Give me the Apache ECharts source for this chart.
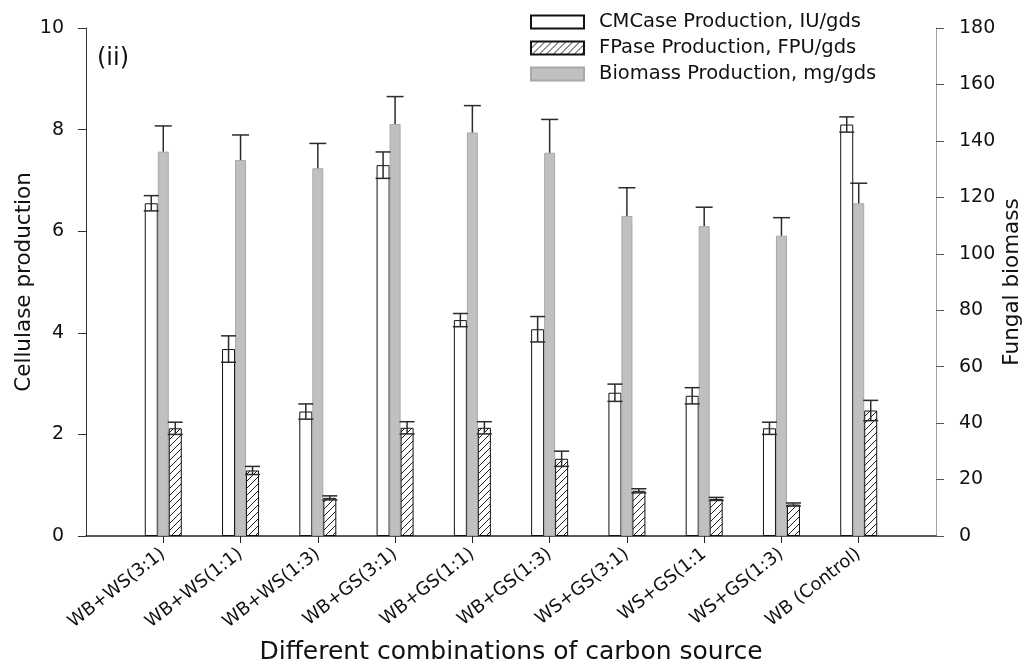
<!DOCTYPE html>
<html>
<head>
<meta charset="utf-8">
<script src="https://cdn.jsdelivr.net/npm/echarts@6/dist/echarts.min.js"></script>
<style>
  html, body { margin: 0; padding: 0; background: #fff; }
  #chart { width: 1028px; height: 666px; }
</style>
</head>
<body>
<div id="chart"></div>
<script>
// Carbon-source combinations on the x axis
const categories = ['WB+WS(3:1)', 'WB+WS(1:1)', 'WB+WS(1:3)', 'WB+GS(3:1)', 'WB+GS(1:1)',
                    'WB+GS(1:3)', 'WS+GS(3:1)', 'WS+GS(1:1', 'WS+GS(1:3)', 'WB (Control)'];

// CMCase production (IU/gds), left axis
const cmcase    = [6.55, 3.68, 2.45, 7.30, 4.25, 4.07, 2.82, 2.76, 2.12, 8.10];
const cmcaseErr = [0.15, 0.26, 0.15, 0.26, 0.13, 0.25, 0.17, 0.16, 0.12, 0.15];

// FPase production (FPU/gds), left axis
const fpase    = [2.12, 1.29, 0.75, 2.13, 2.13, 1.52, 0.89, 0.73, 0.62, 2.47];
const fpaseErr = [0.12, 0.08, 0.04, 0.12, 0.12, 0.15, 0.04, 0.03, 0.03, 0.20];

// Biomass production (mg/gds), right axis
const biomass    = [136.2, 133.2, 130.3, 146.0, 143.0, 135.8, 113.4, 109.8, 106.4, 117.9];
const biomassErr = [9.1, 8.9, 8.8, 9.7, 9.5, 11.8, 10.0, 6.7, 6.4, 7.1];

// Axis scales
const leftAxis  = { min: 0, max: 10, interval: 2 };
const rightAxis = { min: 0, max: 180, interval: 20 };

const legendNames = ['CMCase Production, IU/gds', 'FPase Production, FPU/gds', 'Biomass Production, mg/gds'];

// ---- styling ----
const FONT = 'DejaVu Sans';
const BAR_W = { cm: 13, bio: 11, fp: 13 };
const TOTAL_W = BAR_W.cm + BAR_W.bio + BAR_W.fp;
const OFF = {
  cm: -TOTAL_W / 2 + BAR_W.cm / 2,
  bio: -TOTAL_W / 2 + BAR_W.cm + BAR_W.bio / 2,
  fp: -TOTAL_W / 2 + BAR_W.cm + BAR_W.bio + BAR_W.fp / 2
};

// diagonal hatch fill
function hatchPattern() {
  const s = 7;
  const c = document.createElement('canvas');
  c.width = s; c.height = s;
  const ctx = c.getContext('2d');
  ctx.fillStyle = '#ffffff';
  ctx.fillRect(0, 0, s, s);
  ctx.strokeStyle = '#222';
  ctx.lineWidth = 1;
  ctx.beginPath();
  ctx.moveTo(0, s); ctx.lineTo(s, 0);
  ctx.moveTo(-2, 2); ctx.lineTo(2, -2);
  ctx.moveTo(s - 2, s + 2); ctx.lineTo(s + 2, s - 2);
  ctx.stroke();
  return { image: c, repeat: 'repeat' };
}

// axis slots: an empty slot at each end so the groups sit inside the frame
const axisCats = [''].concat(categories, ['']);
const toPairs = arr => arr.map((v, i) => [i + 1, v]);

function errorSeries(values, errs, yAxisIndex, offset, capW, upperOnly) {
  return {
    type: 'custom',
    yAxisIndex: yAxisIndex,
    z: 5,
    silent: true,
    encode: { x: 0, y: 1 },
    data: values.map((v, i) => [i + 1, v, errs[i]]),
    renderItem: function (params, api) {
      const cx = api.value(0), v = api.value(1), e = api.value(2);
      const x = api.coord([cx, v])[0] + offset;
      const yTop = api.coord([cx, v + e])[1];
      const yBot = api.coord([cx, upperOnly ? v : v - e])[1];
      const style = { stroke: '#2a2a2a', lineWidth: 1.5 };
      const children = [
        { type: 'line', shape: { x1: x, y1: yBot, x2: x, y2: yTop }, style: style },
        { type: 'line', shape: { x1: x - capW / 2, y1: yTop, x2: x + capW / 2, y2: yTop }, style: style }
      ];
      if (!upperOnly) {
        children.push({ type: 'line', shape: { x1: x - capW / 2, y1: yBot, x2: x + capW / 2, y2: yBot }, style: style });
      }
      return { type: 'group', children: children };
    }
  };
}

const chart = echarts.init(document.getElementById('chart'), null, { renderer: 'canvas' });

chart.setOption({
  animation: false,
  backgroundColor: '#ffffff',
  textStyle: { fontFamily: FONT, color: '#111' },
  grid: { left: 86, right: 92, top: 28, bottom: 130, containLabel: false, outerBoundsMode: 'none' },
  legend: {
    data: legendNames,
    orient: 'vertical',
    left: 530,
    top: 12,
    padding: 0,
    itemWidth: 53,
    itemHeight: 13,
    itemGap: 6,
    icon: 'rect',
    textStyle: { fontFamily: FONT, fontSize: 19.5, color: '#111', lineHeight: 20, padding: [0, 0, 0, 10] }
  },
  graphic: [{
    type: 'text',
    left: 97,
    top: 47,
    style: { text: '(ii)', font: '24px "DejaVu Sans"', fill: '#111' }
  }],
  xAxis: {
    type: 'category',
    data: axisCats,
    boundaryGap: false,
    name: 'Different combinations of carbon source',
    nameLocation: 'middle',
    nameGap: 104,
    nameTextStyle: { fontFamily: FONT, fontSize: 25, color: '#111' },
    axisLine: { lineStyle: { color: '#222', width: 1.5 } },
    axisTick: {
      length: 7,
      lineStyle: { color: '#222', width: 1 },
      interval: function (index) { return index > 0 && index < axisCats.length - 1; }
    },
    axisLabel: {
      interval: 0,
      rotate: 38,
      margin: 16,
      fontFamily: FONT,
      fontSize: 18,
      color: '#111'
    },
    splitLine: { show: false }
  },
  yAxis: [{
    type: 'value',
    position: 'left',
    min: leftAxis.min, max: leftAxis.max, interval: leftAxis.interval,
    name: 'Cellulase production',
    nameLocation: 'middle',
    nameGap: 51,
    nameMoveOverlap: false,
    nameTextStyle: { fontFamily: FONT, fontSize: 21.5, color: '#111' },
    axisLine: { show: true, lineStyle: { color: '#333', width: 1 } },
    axisTick: { show: true, length: 8, lineStyle: { color: '#333' } },
    axisLabel: { margin: 22, fontFamily: FONT, fontSize: 19, color: '#111' },
    splitLine: { show: false }
  }, {
    type: 'value',
    position: 'right',
    min: rightAxis.min, max: rightAxis.max, interval: rightAxis.interval,
    name: 'Fungal biomass',
    nameLocation: 'middle',
    nameGap: 65,
    nameRotate: 90,
    nameMoveOverlap: false,
    nameTextStyle: { fontFamily: FONT, fontSize: 21.5, color: '#111' },
    axisLine: { show: true, lineStyle: { color: '#a0a0a0', width: 1 } },
    axisTick: { show: true, length: 8, lineStyle: { color: '#555' } },
    axisLabel: { margin: 23, fontFamily: FONT, fontSize: 19, color: '#111' },
    splitLine: { show: false }
  }],
  series: [{
    name: legendNames[0],
    type: 'bar',
    yAxisIndex: 0,
    barWidth: BAR_W.cm,
    barGap: '0%',
    data: toPairs(cmcase),
    itemStyle: { color: '#ffffff', borderColor: '#111', borderWidth: 1 }
  }, {
    name: legendNames[2],
    type: 'bar',
    yAxisIndex: 1,
    barWidth: BAR_W.bio,
    barGap: '0%',
    data: toPairs(biomass),
    itemStyle: { color: '#c0c0c0', borderColor: '#a8a8a8', borderWidth: 1 }
  }, {
    name: legendNames[1],
    type: 'bar',
    yAxisIndex: 0,
    barWidth: BAR_W.fp,
    barGap: '0%',
    data: toPairs(fpase),
    itemStyle: { color: hatchPattern(), borderColor: '#111', borderWidth: 1 }
  },
  errorSeries(cmcase, cmcaseErr, 0, OFF.cm, 15, false),
  errorSeries(biomass, biomassErr, 1, OFF.bio, 17, true),
  errorSeries(fpase, fpaseErr, 0, OFF.fp, 15, false)
  ]
});
</script>
</body>
</html>
